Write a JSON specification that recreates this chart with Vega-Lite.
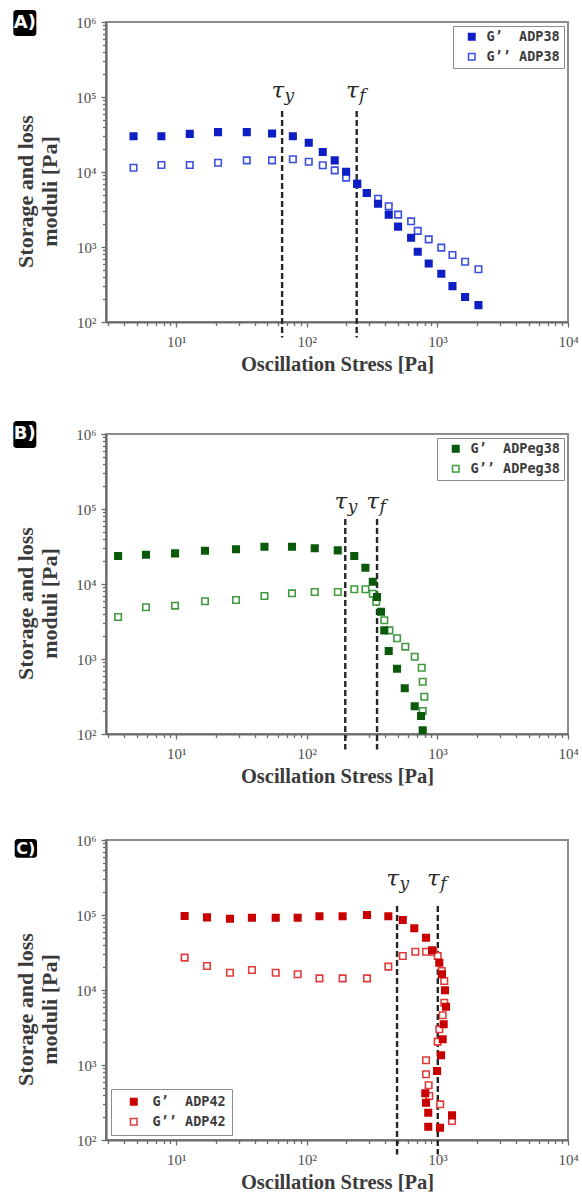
{
  "$schema": "https://vega.github.io/schema/vega-lite/v6.json",
  "padding": {"left": 12, "top": 9, "right": 0, "bottom": 0},
  "spacing": 44,
  "datasets": {
    "A": [
      {"stress": 4.71, "modulus": 11400, "series": "G’’ ADP38"},
      {"stress": 7.7, "modulus": 12400, "series": "G’’ ADP38"},
      {"stress": 12.7, "modulus": 12400, "series": "G’’ ADP38"},
      {"stress": 20.9, "modulus": 13300, "series": "G’’ ADP38"},
      {"stress": 34.7, "modulus": 14300, "series": "G’’ ADP38"},
      {"stress": 54.2, "modulus": 14300, "series": "G’’ ADP38"},
      {"stress": 78.2, "modulus": 14800, "series": "G’’ ADP38"},
      {"stress": 103.5, "modulus": 13700, "series": "G’’ ADP38"},
      {"stress": 132.5, "modulus": 12300, "series": "G’’ ADP38"},
      {"stress": 163.6, "modulus": 10500, "series": "G’’ ADP38"},
      {"stress": 200, "modulus": 8400, "series": "G’’ ADP38"},
      {"stress": 243, "modulus": 6950, "series": "G’’ ADP38"},
      {"stress": 288, "modulus": 5250, "series": "G’’ ADP38"},
      {"stress": 351, "modulus": 4400, "series": "G’’ ADP38"},
      {"stress": 424, "modulus": 3490, "series": "G’’ ADP38"},
      {"stress": 500, "modulus": 2700, "series": "G’’ ADP38"},
      {"stress": 629, "modulus": 2200, "series": "G’’ ADP38"},
      {"stress": 707, "modulus": 1640, "series": "G’’ ADP38"},
      {"stress": 858, "modulus": 1265, "series": "G’’ ADP38"},
      {"stress": 1071, "modulus": 980, "series": "G’’ ADP38"},
      {"stress": 1304, "modulus": 782, "series": "G’’ ADP38"},
      {"stress": 1629, "modulus": 635, "series": "G’’ ADP38"},
      {"stress": 2062, "modulus": 505, "series": "G’’ ADP38"},
      {"stress": 4.71, "modulus": 30000, "series": "G’  ADP38"},
      {"stress": 7.7, "modulus": 30000, "series": "G’  ADP38"},
      {"stress": 12.7, "modulus": 32200, "series": "G’  ADP38"},
      {"stress": 20.9, "modulus": 34000, "series": "G’  ADP38"},
      {"stress": 34.7, "modulus": 34000, "series": "G’  ADP38"},
      {"stress": 54.2, "modulus": 32600, "series": "G’  ADP38"},
      {"stress": 78.2, "modulus": 29900, "series": "G’  ADP38"},
      {"stress": 103.5, "modulus": 24600, "series": "G’  ADP38"},
      {"stress": 132.5, "modulus": 18500, "series": "G’  ADP38"},
      {"stress": 163.6, "modulus": 14300, "series": "G’  ADP38"},
      {"stress": 200, "modulus": 10100, "series": "G’  ADP38"},
      {"stress": 243, "modulus": 6980, "series": "G’  ADP38"},
      {"stress": 288, "modulus": 5250, "series": "G’  ADP38"},
      {"stress": 351, "modulus": 3780, "series": "G’  ADP38"},
      {"stress": 424, "modulus": 2700, "series": "G’  ADP38"},
      {"stress": 500, "modulus": 1870, "series": "G’  ADP38"},
      {"stress": 629, "modulus": 1330, "series": "G’  ADP38"},
      {"stress": 707, "modulus": 865, "series": "G’  ADP38"},
      {"stress": 858, "modulus": 602, "series": "G’  ADP38"},
      {"stress": 1071, "modulus": 440, "series": "G’  ADP38"},
      {"stress": 1304, "modulus": 301, "series": "G’  ADP38"},
      {"stress": 1629, "modulus": 215, "series": "G’  ADP38"},
      {"stress": 2062, "modulus": 168, "series": "G’  ADP38"}
    ],
    "B": [
      {"stress": 3.59, "modulus": 3630, "series": "G’’ ADPeg38"},
      {"stress": 5.87, "modulus": 4890, "series": "G’’ ADPeg38"},
      {"stress": 9.8, "modulus": 5140, "series": "G’’ ADPeg38"},
      {"stress": 16.6, "modulus": 5880, "series": "G’’ ADPeg38"},
      {"stress": 28.7, "modulus": 6120, "series": "G’’ ADPeg38"},
      {"stress": 47.4, "modulus": 6920, "series": "G’’ ADPeg38"},
      {"stress": 77.0, "modulus": 7510, "series": "G’’ ADPeg38"},
      {"stress": 115, "modulus": 7820, "series": "G’’ ADPeg38"},
      {"stress": 172.6, "modulus": 7820, "series": "G’’ ADPeg38"},
      {"stress": 231, "modulus": 8500, "series": "G’’ ADPeg38"},
      {"stress": 281, "modulus": 8500, "series": "G’’ ADPeg38"},
      {"stress": 320, "modulus": 7430, "series": "G’’ ADPeg38"},
      {"stress": 340, "modulus": 5810, "series": "G’’ ADPeg38"},
      {"stress": 392, "modulus": 3280, "series": "G’’ ADPeg38"},
      {"stress": 429, "modulus": 2410, "series": "G’’ ADPeg38"},
      {"stress": 491, "modulus": 1890, "series": "G’’ ADPeg38"},
      {"stress": 568, "modulus": 1460, "series": "G’’ ADPeg38"},
      {"stress": 670, "modulus": 1070, "series": "G’’ ADPeg38"},
      {"stress": 758, "modulus": 765, "series": "G’’ ADPeg38"},
      {"stress": 772, "modulus": 498, "series": "G’’ ADPeg38"},
      {"stress": 794, "modulus": 314, "series": "G’’ ADPeg38"},
      {"stress": 772, "modulus": 203, "series": "G’’ ADPeg38"},
      {"stress": 3.59, "modulus": 23600, "series": "G’  ADPeg38"},
      {"stress": 5.87, "modulus": 24600, "series": "G’  ADPeg38"},
      {"stress": 9.8, "modulus": 25600, "series": "G’  ADPeg38"},
      {"stress": 16.6, "modulus": 27800, "series": "G’  ADPeg38"},
      {"stress": 28.7, "modulus": 29000, "series": "G’  ADPeg38"},
      {"stress": 47.4, "modulus": 31400, "series": "G’  ADPeg38"},
      {"stress": 77.0, "modulus": 31400, "series": "G’  ADPeg38"},
      {"stress": 115, "modulus": 30000, "series": "G’  ADPeg38"},
      {"stress": 172.6, "modulus": 28100, "series": "G’  ADPeg38"},
      {"stress": 231, "modulus": 23600, "series": "G’  ADPeg38"},
      {"stress": 281, "modulus": 16500, "series": "G’  ADPeg38"},
      {"stress": 320, "modulus": 10700, "series": "G’  ADPeg38"},
      {"stress": 345, "modulus": 6700, "series": "G’  ADPeg38"},
      {"stress": 370, "modulus": 4270, "series": "G’  ADPeg38"},
      {"stress": 392, "modulus": 2410, "series": "G’  ADPeg38"},
      {"stress": 424, "modulus": 1280, "series": "G’  ADPeg38"},
      {"stress": 491, "modulus": 743, "series": "G’  ADPeg38"},
      {"stress": 562, "modulus": 407, "series": "G’  ADPeg38"},
      {"stress": 670, "modulus": 234, "series": "G’  ADPeg38"},
      {"stress": 749, "modulus": 174, "series": "G’  ADPeg38"},
      {"stress": 772, "modulus": 112, "series": "G’  ADPeg38"}
    ],
    "C": [
      {"stress": 11.6, "modulus": 27000, "series": "G’’ ADP42"},
      {"stress": 17.2, "modulus": 20900, "series": "G’’ ADP42"},
      {"stress": 25.8, "modulus": 17000, "series": "G’’ ADP42"},
      {"stress": 38.0, "modulus": 18500, "series": "G’’ ADP42"},
      {"stress": 57.8, "modulus": 17000, "series": "G’’ ADP42"},
      {"stress": 85.1, "modulus": 16200, "series": "G’’ ADP42"},
      {"stress": 125, "modulus": 14300, "series": "G’’ ADP42"},
      {"stress": 188, "modulus": 14300, "series": "G’’ ADP42"},
      {"stress": 289, "modulus": 14300, "series": "G’’ ADP42"},
      {"stress": 421, "modulus": 20500, "series": "G’’ ADP42"},
      {"stress": 543, "modulus": 28400, "series": "G’’ ADP42"},
      {"stress": 678, "modulus": 32400, "series": "G’’ ADP42"},
      {"stress": 818, "modulus": 32400, "series": "G’’ ADP42"},
      {"stress": 931, "modulus": 32100, "series": "G’’ ADP42"},
      {"stress": 1005, "modulus": 28400, "series": "G’’ ADP42"},
      {"stress": 1079, "modulus": 17900, "series": "G’’ ADP42"},
      {"stress": 1129, "modulus": 13200, "series": "G’’ ADP42"},
      {"stress": 1129, "modulus": 6770, "series": "G’’ ADP42"},
      {"stress": 1098, "modulus": 4600, "series": "G’’ ADP42"},
      {"stress": 1034, "modulus": 2990, "series": "G’’ ADP42"},
      {"stress": 1005, "modulus": 2050, "series": "G’’ ADP42"},
      {"stress": 818, "modulus": 1156, "series": "G’’ ADP42"},
      {"stress": 818, "modulus": 752, "series": "G’’ ADP42"},
      {"stress": 857, "modulus": 536, "series": "G’’ ADP42"},
      {"stress": 867, "modulus": 386, "series": "G’’ ADP42"},
      {"stress": 1051, "modulus": 299, "series": "G’’ ADP42"},
      {"stress": 1294, "modulus": 179, "series": "G’’ ADP42"},
      {"stress": 11.6, "modulus": 97000, "series": "G’  ADP42"},
      {"stress": 17.2, "modulus": 93000, "series": "G’  ADP42"},
      {"stress": 25.8, "modulus": 89000, "series": "G’  ADP42"},
      {"stress": 38.0, "modulus": 92000, "series": "G’  ADP42"},
      {"stress": 57.8, "modulus": 92000, "series": "G’  ADP42"},
      {"stress": 85.1, "modulus": 92000, "series": "G’  ADP42"},
      {"stress": 125, "modulus": 96000, "series": "G’  ADP42"},
      {"stress": 188, "modulus": 96000, "series": "G’  ADP42"},
      {"stress": 289, "modulus": 100000, "series": "G’  ADP42"},
      {"stress": 421, "modulus": 96000, "series": "G’  ADP42"},
      {"stress": 543, "modulus": 85800, "series": "G’  ADP42"},
      {"stress": 665, "modulus": 66500, "series": "G’  ADP42"},
      {"stress": 818, "modulus": 49800, "series": "G’  ADP42"},
      {"stress": 910, "modulus": 33800, "series": "G’  ADP42"},
      {"stress": 1034, "modulus": 23100, "series": "G’  ADP42"},
      {"stress": 1084, "modulus": 16200, "series": "G’  ADP42"},
      {"stress": 1143, "modulus": 9900, "series": "G’  ADP42"},
      {"stress": 1164, "modulus": 5990, "series": "G’  ADP42"},
      {"stress": 1117, "modulus": 3490, "series": "G’  ADP42"},
      {"stress": 1098, "modulus": 2200, "series": "G’  ADP42"},
      {"stress": 1066, "modulus": 1350, "series": "G’  ADP42"},
      {"stress": 994, "modulus": 832, "series": "G’  ADP42"},
      {"stress": 808, "modulus": 420, "series": "G’  ADP42"},
      {"stress": 818, "modulus": 314, "series": "G’  ADP42"},
      {"stress": 851, "modulus": 231, "series": "G’  ADP42"},
      {"stress": 851, "modulus": 150, "series": "G’  ADP42"},
      {"stress": 1047, "modulus": 146, "series": "G’  ADP42"},
      {"stress": 1294, "modulus": 213, "series": "G’  ADP42"}
    ],
    "tau": [
      {"panel": "A", "sub": "y", "stress": 64.7, "top": 65000, "bottom": 62, "labelY": 97000},
      {"panel": "A", "sub": "f", "stress": 241, "top": 65000, "bottom": 62, "labelY": 97000},
      {"panel": "B", "sub": "y", "stress": 197, "top": 73600, "bottom": 62, "labelY": 99000},
      {"panel": "B", "sub": "f", "stress": 345, "top": 73600, "bottom": 62, "labelY": 99000},
      {"panel": "C", "sub": "y", "stress": 491, "top": 131800, "bottom": 64, "labelY": 243700},
      {"panel": "C", "sub": "f", "stress": 1007, "top": 131800, "bottom": 64, "labelY": 243700}
    ]
  },
  "config": {
    "view": {"stroke": "#8c8c8c", "strokeWidth": 2},
    "axis": {
      "grid": false,
      "domainColor": "#6b6b6b",
      "domainWidth": 2.2,
      "tickColor": "#6b6b6b",
      "tickWidth": 1.3,
      "labelFont": "Liberation Serif",
      "labelFontSize": 15,
      "labelColor": "#4d4d4d",
      "labelFlush": false,
      "labelOverlap": false,
      "labelBound": false,
      "titleFont": "Liberation Serif",
      "titleFontWeight": "bold",
      "titleColor": "#3a3a3a"
    },
    "axisX": {"labelPadding": 7, "titleFontSize": 20.5, "titlePadding": 5},
    "axisY": {"labelPadding": 5, "titleFontSize": 22, "titlePadding": 14, "titleLineHeight": 24, "titleY": 169},
    "legend": {
      "padding": 4,
      "symbolOffset": 8,
      "labelOffset": 8,
      "rowPadding": 5,
      "strokeColor": "#8c8c8c",
      "fillColor": "#ffffff",
      "labelFont": "DejaVu Sans Mono",
      "labelFontWeight": "bold",
      "labelFontSize": 13.5,
      "labelColor": "#3c3c3c",
      "labelLimit": 300,
      "symbolSize": 42,
      "symbolStrokeWidth": 1.5,
      "symbolType": "square"
    }
  },
  "resolve": {
    "scale": {"stroke": "independent", "fill": "independent", "x": "independent", "y": "independent"},
    "legend": {"stroke": "independent", "fill": "independent"}
  },
  "vconcat": [
    {
      "width": 462,
      "height": 300,
      "layer": [
        {
          "data": {"name": "tau"},
          "transform": [{"filter": "datum.panel == 'A'"}],
          "mark": {"type": "rule", "color": "#262626", "strokeWidth": 2.4, "strokeDash": [6, 3]},
          "encoding": {
            "x": {"field": "stress", "type": "quantitative", "scale": {"type": "log", "domain": [2.9, 10000]}},
            "y": {"field": "top", "type": "quantitative", "scale": {"type": "log", "domain": [100, 1000000]}},
            "y2": {"field": "bottom"}
          }
        },
        {
          "data": {"name": "A"},
          "transform": [{"calculate": "replace(datum.series, '’  ', '’\u00a0\u00a0')", "as": "series"}],
          "mark": {"type": "point", "shape": "square", "size": 42, "strokeWidth": 1.6, "opacity": 1},
          "encoding": {
            "x": {
              "field": "stress", "type": "quantitative",
              "scale": {"type": "log", "domain": [2.9, 10000]},
              "title": "Oscillation Stress [Pa]",
              "axis": {
                "values": [3,4,5,6,7,8,9,10,20,30,40,50,60,70,80,90,100,200,300,400,500,600,700,800,900,1000,2000,3000,4000,5000,6000,7000,8000,9000,10000],
                "labelExpr": "datum.value == 10 ? '10¹' : datum.value == 100 ? '10²' : datum.value == 1000 ? '10³' : datum.value == 10000 ? '10⁴' : ''",
                "tickSize": {"condition": {"test": "datum.value == 10 || datum.value == 100 || datum.value == 1000 || datum.value == 10000", "value": 5}, "value": 3.5}
              }
            },
            "y": {
              "field": "modulus", "type": "quantitative",
              "scale": {"type": "log", "domain": [100, 1000000]},
              "title": ["Storage and loss", "moduli [Pa]"],
              "axis": {
                "values": [100,200,300,400,500,600,700,800,900,1000,2000,3000,4000,5000,6000,7000,8000,9000,10000,20000,30000,40000,50000,60000,70000,80000,90000,100000,200000,300000,400000,500000,600000,700000,800000,900000,1000000],
                "labelExpr": "datum.value == 100 ? '10²' : datum.value == 1000 ? '10³' : datum.value == 10000 ? '10⁴' : datum.value == 100000 ? '10⁵' : datum.value == 1000000 ? '10⁶' : ''",
                "tickSize": {"condition": {"test": "datum.value == 100 || datum.value == 1000 || datum.value == 10000 || datum.value == 100000 || datum.value == 1000000", "value": 5}, "value": 3.5}
              }
            },
            "stroke": {"field": "series", "type": "nominal", "scale": {"domain": ["G’\u00a0\u00a0ADP38", "G’’ ADP38"], "range": ["#0d1fc4", "#3b4fe0"]}, "legend": {"title": null, "orient": "top-right", "offset": 4}},
            "fill": {"field": "series", "type": "nominal", "scale": {"domain": ["G’\u00a0\u00a0ADP38", "G’’ ADP38"], "range": ["#0d1fc4", "#ffffff"]}, "legend": {"title": null, "orient": "top-right", "offset": 4}}
          }
        },
        {
          "data": {"name": "tau"},
          "transform": [{"filter": "datum.panel == 'A'"}],
          "mark": {"type": "text", "font": "DejaVu Serif", "fontStyle": "italic", "fontSize": 23, "align": "right", "baseline": "alphabetic", "dx": 2, "color": "#2a2a2a"},
          "encoding": {
            "x": {"field": "stress", "type": "quantitative", "scale": {"type": "log", "domain": [2.9, 10000]}},
            "y": {"field": "labelY", "type": "quantitative", "scale": {"type": "log", "domain": [100, 1000000]}},
            "text": {"value": "τ"}
          }
        },
        {
          "data": {"name": "tau"},
          "transform": [{"filter": "datum.panel == 'A'"}],
          "mark": {"type": "text", "font": "DejaVu Serif", "fontStyle": "italic", "fontSize": 17, "align": "left", "baseline": "alphabetic", "dx": 2.5, "dy": 3, "color": "#2a2a2a"},
          "encoding": {
            "x": {"field": "stress", "type": "quantitative", "scale": {"type": "log", "domain": [2.9, 10000]}},
            "y": {"field": "labelY", "type": "quantitative", "scale": {"type": "log", "domain": [100, 1000000]}},
            "text": {"field": "sub"}
          }
        },
        {
          "data": {"values": [{"label": "A)"}]},
          "mark": {"type": "rect", "color": "#000000", "cornerRadius": 3},
          "encoding": {
            "x": {"datum": 0.566, "type": "quantitative", "scale": {"type": "log", "domain": [2.9, 10000]}},
            "x2": {"datum": 0.849},
            "y": {"datum": 1445000, "type": "quantitative", "scale": {"type": "log", "domain": [100, 1000000]}},
            "y2": {"datum": 650000}
          }
        },
        {
          "data": {"values": [{"label": "A)"}]},
          "mark": {"type": "text", "font": "DejaVu Sans", "fontWeight": "bold", "fontSize": 18, "color": "#ffffff", "align": "center", "baseline": "middle"},
          "encoding": {
            "x": {"datum": 0.693, "type": "quantitative", "scale": {"type": "log", "domain": [2.9, 10000]}},
            "y": {"datum": 970000, "type": "quantitative", "scale": {"type": "log", "domain": [100, 1000000]}},
            "text": {"field": "label"}
          }
        }
      ]
    },
    {
      "width": 462,
      "height": 300,
      "layer": [
        {
          "data": {"name": "tau"},
          "transform": [{"filter": "datum.panel == 'B'"}],
          "mark": {"type": "rule", "color": "#262626", "strokeWidth": 2.4, "strokeDash": [6, 3]},
          "encoding": {
            "x": {"field": "stress", "type": "quantitative", "scale": {"type": "log", "domain": [2.9, 10000]}},
            "y": {"field": "top", "type": "quantitative", "scale": {"type": "log", "domain": [100, 1000000]}},
            "y2": {"field": "bottom"}
          }
        },
        {
          "data": {"name": "B"},
          "transform": [{"calculate": "replace(datum.series, '’  ', '’\u00a0\u00a0')", "as": "series"}],
          "mark": {"type": "point", "shape": "square", "size": 42, "strokeWidth": 1.6, "opacity": 1},
          "encoding": {
            "x": {
              "field": "stress", "type": "quantitative",
              "scale": {"type": "log", "domain": [2.9, 10000]},
              "title": "Oscillation Stress [Pa]",
              "axis": {
                "values": [3,4,5,6,7,8,9,10,20,30,40,50,60,70,80,90,100,200,300,400,500,600,700,800,900,1000,2000,3000,4000,5000,6000,7000,8000,9000,10000],
                "labelExpr": "datum.value == 10 ? '10¹' : datum.value == 100 ? '10²' : datum.value == 1000 ? '10³' : datum.value == 10000 ? '10⁴' : ''",
                "tickSize": {"condition": {"test": "datum.value == 10 || datum.value == 100 || datum.value == 1000 || datum.value == 10000", "value": 5}, "value": 3.5}
              }
            },
            "y": {
              "field": "modulus", "type": "quantitative",
              "scale": {"type": "log", "domain": [100, 1000000]},
              "title": ["Storage and loss", "moduli [Pa]"],
              "axis": {
                "values": [100,200,300,400,500,600,700,800,900,1000,2000,3000,4000,5000,6000,7000,8000,9000,10000,20000,30000,40000,50000,60000,70000,80000,90000,100000,200000,300000,400000,500000,600000,700000,800000,900000,1000000],
                "labelExpr": "datum.value == 100 ? '10²' : datum.value == 1000 ? '10³' : datum.value == 10000 ? '10⁴' : datum.value == 100000 ? '10⁵' : datum.value == 1000000 ? '10⁶' : ''",
                "tickSize": {"condition": {"test": "datum.value == 100 || datum.value == 1000 || datum.value == 10000 || datum.value == 100000 || datum.value == 1000000", "value": 5}, "value": 3.5}
              }
            },
            "stroke": {"field": "series", "type": "nominal", "scale": {"domain": ["G’\u00a0\u00a0ADPeg38", "G’’ ADPeg38"], "range": ["#0b5a0b", "#3f9a3f"]}, "legend": {"title": null, "orient": "top-right", "offset": 4}},
            "fill": {"field": "series", "type": "nominal", "scale": {"domain": ["G’\u00a0\u00a0ADPeg38", "G’’ ADPeg38"], "range": ["#0b5a0b", "#ffffff"]}, "legend": {"title": null, "orient": "top-right", "offset": 4}}
          }
        },
        {
          "data": {"name": "tau"},
          "transform": [{"filter": "datum.panel == 'B'"}],
          "mark": {"type": "text", "font": "DejaVu Serif", "fontStyle": "italic", "fontSize": 23, "align": "right", "baseline": "alphabetic", "dx": 2, "color": "#2a2a2a"},
          "encoding": {
            "x": {"field": "stress", "type": "quantitative", "scale": {"type": "log", "domain": [2.9, 10000]}},
            "y": {"field": "labelY", "type": "quantitative", "scale": {"type": "log", "domain": [100, 1000000]}},
            "text": {"value": "τ"}
          }
        },
        {
          "data": {"name": "tau"},
          "transform": [{"filter": "datum.panel == 'B'"}],
          "mark": {"type": "text", "font": "DejaVu Serif", "fontStyle": "italic", "fontSize": 17, "align": "left", "baseline": "alphabetic", "dx": 2.5, "dy": 3, "color": "#2a2a2a"},
          "encoding": {
            "x": {"field": "stress", "type": "quantitative", "scale": {"type": "log", "domain": [2.9, 10000]}},
            "y": {"field": "labelY", "type": "quantitative", "scale": {"type": "log", "domain": [100, 1000000]}},
            "text": {"field": "sub"}
          }
        },
        {
          "data": {"values": [{"label": "B)"}]},
          "mark": {"type": "rect", "color": "#000000", "cornerRadius": 3},
          "encoding": {
            "x": {"datum": 0.566, "type": "quantitative", "scale": {"type": "log", "domain": [2.9, 10000]}},
            "x2": {"datum": 0.849},
            "y": {"datum": 1490000, "type": "quantitative", "scale": {"type": "log", "domain": [100, 1000000]}},
            "y2": {"datum": 650000}
          }
        },
        {
          "data": {"values": [{"label": "B)"}]},
          "mark": {"type": "text", "font": "DejaVu Sans", "fontWeight": "bold", "fontSize": 18, "color": "#ffffff", "align": "center", "baseline": "middle"},
          "encoding": {
            "x": {"datum": 0.693, "type": "quantitative", "scale": {"type": "log", "domain": [2.9, 10000]}},
            "y": {"datum": 985000, "type": "quantitative", "scale": {"type": "log", "domain": [100, 1000000]}},
            "text": {"field": "label"}
          }
        }
      ]
    },
    {
      "width": 462,
      "height": 300,
      "layer": [
        {
          "data": {"name": "tau"},
          "transform": [{"filter": "datum.panel == 'C'"}],
          "mark": {"type": "rule", "color": "#262626", "strokeWidth": 2.4, "strokeDash": [6, 3]},
          "encoding": {
            "x": {"field": "stress", "type": "quantitative", "scale": {"type": "log", "domain": [2.9, 10000]}},
            "y": {"field": "top", "type": "quantitative", "scale": {"type": "log", "domain": [100, 1000000]}},
            "y2": {"field": "bottom"}
          }
        },
        {
          "data": {"name": "C"},
          "transform": [{"calculate": "replace(datum.series, '’  ', '’\u00a0\u00a0')", "as": "series"}],
          "mark": {"type": "point", "shape": "square", "size": 42, "strokeWidth": 1.6, "opacity": 1},
          "encoding": {
            "x": {
              "field": "stress", "type": "quantitative",
              "scale": {"type": "log", "domain": [2.9, 10000]},
              "title": "Oscillation Stress [Pa]",
              "axis": {
                "values": [3,4,5,6,7,8,9,10,20,30,40,50,60,70,80,90,100,200,300,400,500,600,700,800,900,1000,2000,3000,4000,5000,6000,7000,8000,9000,10000],
                "labelExpr": "datum.value == 10 ? '10¹' : datum.value == 100 ? '10²' : datum.value == 1000 ? '10³' : datum.value == 10000 ? '10⁴' : ''",
                "tickSize": {"condition": {"test": "datum.value == 10 || datum.value == 100 || datum.value == 1000 || datum.value == 10000", "value": 5}, "value": 3.5}
              }
            },
            "y": {
              "field": "modulus", "type": "quantitative",
              "scale": {"type": "log", "domain": [100, 1000000]},
              "title": ["Storage and loss", "moduli [Pa]"],
              "axis": {
                "values": [100,200,300,400,500,600,700,800,900,1000,2000,3000,4000,5000,6000,7000,8000,9000,10000,20000,30000,40000,50000,60000,70000,80000,90000,100000,200000,300000,400000,500000,600000,700000,800000,900000,1000000],
                "labelExpr": "datum.value == 100 ? '10²' : datum.value == 1000 ? '10³' : datum.value == 10000 ? '10⁴' : datum.value == 100000 ? '10⁵' : datum.value == 1000000 ? '10⁶' : ''",
                "tickSize": {"condition": {"test": "datum.value == 100 || datum.value == 1000 || datum.value == 10000 || datum.value == 100000 || datum.value == 1000000", "value": 5}, "value": 3.5}
              }
            },
            "stroke": {"field": "series", "type": "nominal", "scale": {"domain": ["G’\u00a0\u00a0ADP42", "G’’ ADP42"], "range": ["#c80000", "#e03c3c"]}, "legend": {"title": null, "orient": "bottom-left", "offset": 5, "padding": 6, "symbolOffset": 10, "labelOffset": 12}},
            "fill": {"field": "series", "type": "nominal", "scale": {"domain": ["G’\u00a0\u00a0ADP42", "G’’ ADP42"], "range": ["#c80000", "#ffffff"]}, "legend": {"title": null, "orient": "bottom-left", "offset": 5, "padding": 6, "symbolOffset": 10, "labelOffset": 12}}
          }
        },
        {
          "data": {"name": "tau"},
          "transform": [{"filter": "datum.panel == 'C'"}],
          "mark": {"type": "text", "font": "DejaVu Serif", "fontStyle": "italic", "fontSize": 23, "align": "right", "baseline": "alphabetic", "dx": 2, "color": "#2a2a2a"},
          "encoding": {
            "x": {"field": "stress", "type": "quantitative", "scale": {"type": "log", "domain": [2.9, 10000]}},
            "y": {"field": "labelY", "type": "quantitative", "scale": {"type": "log", "domain": [100, 1000000]}},
            "text": {"value": "τ"}
          }
        },
        {
          "data": {"name": "tau"},
          "transform": [{"filter": "datum.panel == 'C'"}],
          "mark": {"type": "text", "font": "DejaVu Serif", "fontStyle": "italic", "fontSize": 17, "align": "left", "baseline": "alphabetic", "dx": 2.5, "dy": 3, "color": "#2a2a2a"},
          "encoding": {
            "x": {"field": "stress", "type": "quantitative", "scale": {"type": "log", "domain": [2.9, 10000]}},
            "y": {"field": "labelY", "type": "quantitative", "scale": {"type": "log", "domain": [100, 1000000]}},
            "text": {"field": "sub"}
          }
        },
        {
          "data": {"values": [{"label": "C)"}]},
          "mark": {"type": "rect", "color": "#000000", "cornerRadius": 3},
          "encoding": {
            "x": {"datum": 0.58, "type": "quantitative", "scale": {"type": "log", "domain": [2.9, 10000]}},
            "x2": {"datum": 0.86},
            "y": {"datum": 1030000, "type": "quantitative", "scale": {"type": "log", "domain": [100, 1000000]}},
            "y2": {"datum": 580000}
          }
        },
        {
          "data": {"values": [{"label": "C)"}]},
          "mark": {"type": "text", "font": "DejaVu Sans", "fontWeight": "bold", "fontSize": 16, "color": "#ffffff", "align": "center", "baseline": "middle"},
          "encoding": {
            "x": {"datum": 0.706, "type": "quantitative", "scale": {"type": "log", "domain": [2.9, 10000]}},
            "y": {"datum": 770000, "type": "quantitative", "scale": {"type": "log", "domain": [100, 1000000]}},
            "text": {"field": "label"}
          }
        }
      ]
    }
  ]
}
